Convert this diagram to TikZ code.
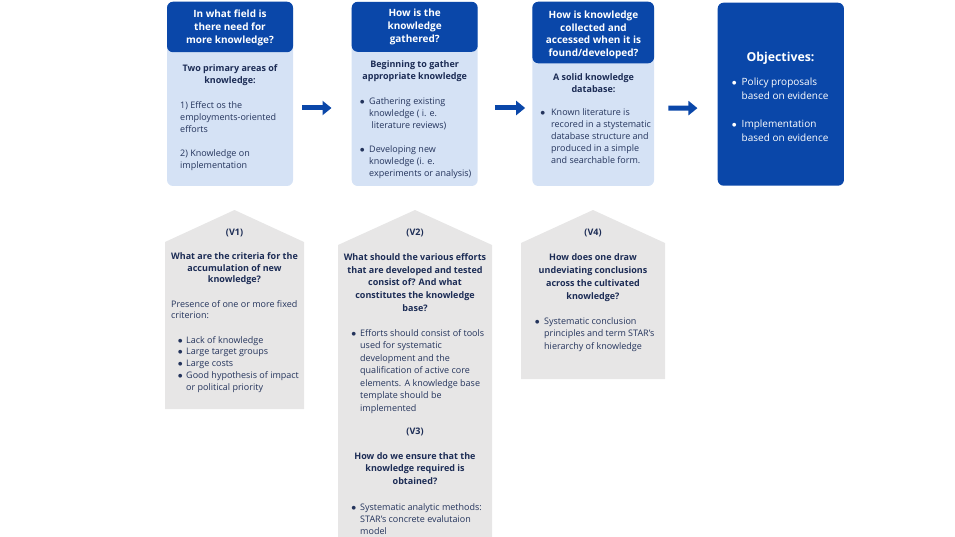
\documentclass[tikz,border=0pt]{standalone}
\usepackage{fontspec}
\setmainfont{Open Sans}
\newfontfamily\dejavu{DejaVu Sans}
\usetikzlibrary{arrows.meta}
\definecolor{dkblue}{HTML}{0A47A9}
\definecolor{ltblue}{HTML}{D5E2F5}
\definecolor{grayfill}{HTML}{E7E6E6}
\definecolor{navy}{HTML}{1C2C55}
\definecolor{bodytxt}{HTML}{24345C}
\newcommand{\ctab}[1]{\begin{tabular}[t]{@{}c@{}}#1\end{tabular}}
\newcommand{\ltab}[1]{\begin{tabular}[t]{@{}l@{}}#1\end{tabular}}
\newcommand{\btab}[2]{\begin{tabular}[t]{@{}p{#1}@{}l@{}}#2\end{tabular}}
\newcommand{\bul}{\makebox[3pt][c]{\raisebox{1pt}{\dejavu\fontsize{5}{5}\selectfont ●}}}
\tikzset{
  bodybox/.style={fill=ltblue, rounded corners=6pt, inner sep=0, draw=none},
  headbox/.style={fill=dkblue, rounded corners=6pt, inner sep=0, draw=none},
  objbox/.style={fill=dkblue, rounded corners=6pt, inner sep=0, draw=none},
  pent/.style={fill=grayfill, draw=none},
  flowarrow/.style={draw=dkblue, line width=5pt, -{Triangle[length=9pt,width=14pt]}},
  htxt/.style={inner sep=0, anchor=base, text=white, font=\bfseries\fontsize{10}{13}\selectfont},
  ctxt/.style={inner sep=0, anchor=base, text=navy, font=\bfseries\fontsize{9}{12}\selectfont},
  ltxt/.style={inner sep=0, anchor=base west, text=bodytxt, font=\fontsize{9}{12}\selectfont},
}
\begin{document}
\begin{tikzpicture}[x=1pt,y=-1pt]
\useasboundingbox (0,0) rectangle (955,537);
% ---- top row boxes
\node[bodybox, minimum width=126pt, minimum height=184pt] (b1) at (230,94) {};
\node[headbox, minimum width=126pt, minimum height=50.5pt] (h1) at (230,27) {};
\node[bodybox, minimum width=126pt, minimum height=184pt] (b2) at (414.7,94) {};
\node[headbox, minimum width=126pt, minimum height=50pt] (h2) at (414.7,26.8) {};
\node[bodybox, minimum width=121.7pt, minimum height=184pt] (b3) at (593.2,94) {};
\node[headbox, minimum width=121.7pt, minimum height=61.6pt] (h3) at (593.2,32.5) {};
\node[objbox, minimum width=126.3pt, minimum height=183pt] (b4) at (780.8,94.2) {};
% ---- arrows
\draw[flowarrow, shorten <=9pt, shorten >=20pt] ([yshift=-14pt]b1.east) -- ([yshift=-14pt]b2.west);
\draw[flowarrow, shorten <=17pt, shorten >=7pt] ([yshift=-14pt]b2.east) -- ([yshift=-14pt]b3.west);
\draw[flowarrow, shorten <=14pt, shorten >=20pt] ([yshift=-14pt]b3.east) -- ([yshift=-14pt]b4.west);
% ---- box 1 text
\node[htxt] (h1t) at (230,18) {\ctab{In what field is\\there need for\\more knowledge?}};
\node[ctxt] (b1t) at (230,72) {\ctab{Two primary areas of\\knowledge:}};
\node[ltxt] (b1l) at (180,108.5) {\ltab{1) Effect os the\\employments-oriented\\efforts\\[12pt]2) Knowledge on\\implementation}};
% ---- box 2 text
\node[htxt] (h2t) at (414.7,16.5) {\ctab{How is the\\knowledge\\gathered?}};
\node[ctxt] (b2t) at (414.7,67.5) {\ctab{Beginning to gather\\appropriate knowledge}};
\node[ltxt] (b2l) at (360.5,104.5) {\btab{8.5pt}{\bul & Gathering existing\\ & knowledge ( i. e.\\ & \ literature reviews)\\[12pt]\bul & Developing new\\ & knowledge (i. e.\\ & experiments or analysis)}};
% ---- box 3 text
\node[htxt, font=\bfseries\fontsize{10}{12.6}\selectfont] (h3t) at (593.5,18.5) {\ctab{How is knowledge\\collected and\\accessed when it is\\found/developed?}};
\node[ctxt] (b3t) at (593.5,80.5) {\ctab{A solid knowledge\\database:}};
\node[ltxt] (b3l) at (541,115.5) {\btab{10pt}{\bul & Known literature is\\ & recored in a stystematic\\ & database structure and\\ & produced in a simple\\ & and searchable form.}};
% ---- box 4 text
\node[htxt, font=\bfseries\fontsize{12.3}{16}\selectfont] (b4h) at (780.5,61.5) {Objectives:};
\node[ltxt, text=white, font=\fontsize{10}{13.7}\selectfont] (b4l) at (732.5,86) {\btab{9pt}{\bul & Policy proposals\\ & based on evidence\\[14pt]\bul & Implementation\\ & based on evidence}};
% ---- V1
\path[pent] (165,242) -- (234.5,210) -- (304,242) -- (304,409) -- (165,409) -- cycle;
\node[ctxt] (v1h) at (234.5,235.5) {(V1)};
\node[ctxt, font=\bfseries\fontsize{9}{11.7}\selectfont] (v1q) at (234.5,259.5) {\ctab{What are the criteria for the\\accumulation of new\\knowledge?}};
\node[ltxt, font=\fontsize{9}{11.7}\selectfont] (v1a) at (171,307) {\ltab{Presence of one or more fixed\\criterion:}};
\node[ltxt, font=\fontsize{9}{11.75}\selectfont] (v1b) at (178.5,343) {\btab{7.5pt}{\bul & Lack of knowledge\\\bul & Large target groups\\\bul & Large costs\\\bul & Good hypothesis of impact\\ & or political priority}};
% ---- V2 / V3
\path[pent] (338,245) -- (415,210) -- (492,245) -- (492,540) -- (338,540) -- cycle;
\node[ctxt] (v2h) at (415,235.5) {(V2)};
\node[ctxt, font=\bfseries\fontsize{9}{12.75}\selectfont] (v2q) at (415,260.3) {\ctab{What should the various efforts\\that are developed and tested\\consist of? And what\\constitutes the knowledge\\base?}};
\node[ltxt, font=\fontsize{9}{12.5}\selectfont] (v2a) at (352,336.3) {\btab{8pt}{\bul & Efforts should consist of tools\\ & used for systematic\\ & development and the\\ & qualification of active core\\ & elements. A knowledge base\\ & template should be\\ & implemented}};
\node[ctxt] (v3h) at (415,434) {(V3)};
\node[ctxt, font=\bfseries\fontsize{9}{12.5}\selectfont] (v3q) at (415,459) {\ctab{How do we ensure that the\\knowledge required is\\obtained?}};
\node[ltxt] (v3a) at (352,510) {\btab{8pt}{\bul & Systematic analytic methods:\\ & STAR's concrete evalutaion\\ & model}};
% ---- V4
\path[pent] (521,243) -- (593,210) -- (665,243) -- (665,379) -- (521,379) -- cycle;
\node[ctxt] (v4h) at (593,236) {(V4)};
\node[ctxt, font=\bfseries\fontsize{9}{12.7}\selectfont] (v4q) at (593,261) {\ctab{How does one draw\\undeviating conclusions\\across the cultivated\\knowledge?}};
\node[ltxt, font=\fontsize{9}{12.5}\selectfont] (v4a) at (535.5,324) {\btab{8.5pt}{\bul & Systematic conclusion\\ & principles and term STAR's\\ & hierarchy of knowledge}};
\end{tikzpicture}
\end{document}
